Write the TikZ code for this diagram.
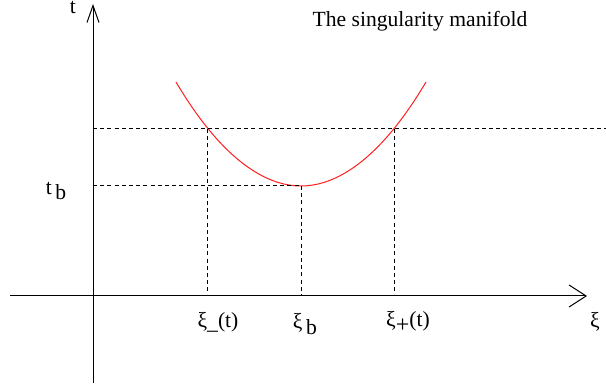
\documentclass[tikz,border=0pt]{standalone}
\usepackage{fontspec}
\setmainfont{Liberation Serif}
\usepackage{tikz}
\usetikzlibrary{arrows.meta,positioning}
\definecolor{curvc}{RGB}{255,30,30}

\begin{document}
\begin{tikzpicture}[x=0.5pt,y=-0.5pt,font=\fontsize{10.8}{13}\selectfont,
  axis/.style={line width=0.5pt},
  guide/.style={line width=0.5pt,dash pattern=on 2pt off 1.6pt},
  lbl/.style={inner sep=0pt}]
\useasboundingbox (0,0) rectangle (606,390);
% --- axes ---
\coordinate (ybot) at (93,383); \coordinate (ytop) at (93,4);
\coordinate (xlft) at (10,296); \coordinate (xrgt) at (587,296);
\draw[axis,-{Straight Barb[length=8.5pt,width=6pt]}] (ybot) -- (ytop);
\draw[axis,-{Straight Barb[length=8.5pt,width=11pt]}] (xlft) -- (xrgt);
\node[lbl] (tlab) at (73,8) {t};
\node[lbl] (xilab) at (595,322) {ξ};
% --- singularity curve ---
\coordinate (cl) at (176,82); \coordinate (cb) at (301,186); \coordinate (cr) at (426,82);
\draw[curvc,line width=0.5pt] (cl) parabola bend (cb) (cr);
% --- guide lines ---
\coordinate (ht) at (93,129); \coordinate (hr) at (606,129);
\coordinate (pm) at (207,129); \coordinate (pp) at (394,129);
\coordinate (bt) at (93,186);
\coordinate (pm0) at (207,296); \coordinate (pb0) at (301,296); \coordinate (pp0) at (394,296);
\draw[guide] (ht) -- (hr);
\draw[guide] (bt) -- (cb);
\draw[guide] (pm) -- (pm0);
\draw[guide] (cb) -- (pb0);
\draw[guide] (pp) -- (pp0);
% --- labels ---
\node[lbl] (tb) at (56,191) {t\,\raisebox{-0.45ex}{b}};
\node[lbl] (xim) at (218,322) {ξ\raisebox{-0.2ex}{\_}(t)};
\node[lbl] (xib) at (305,324) {ξ\,\raisebox{-0.6ex}{b}};
\node[lbl] (xip) at (408,322) {ξ\raisebox{-0.6ex}{\fontsize{12}{12}\selectfont +}(t)};
\node[lbl] (title) at (420,21) {The singularity manifold};
\end{tikzpicture}
\end{document}
